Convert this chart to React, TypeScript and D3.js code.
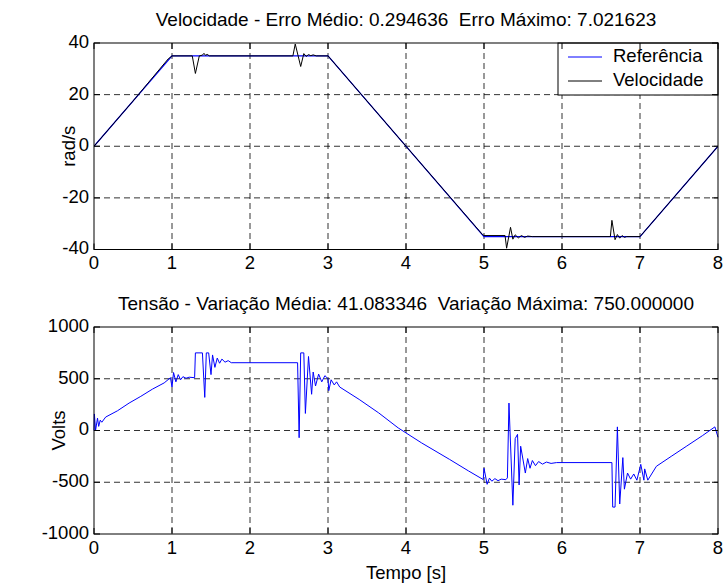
import React from "react";
import * as d3 from "d3";

// ---------- data ----------
const refT = [0, 1, 3, 5, 7, 8];
const refV = [0, 35, 35, -35, -35, 0];

const velT = [0, 0.5, 0.95, 1.0, 1.26, 1.3, 1.35, 1.39, 1.41, 1.43, 1.45, 1.48, 2.55, 2.58, 2.65, 2.69, 2.72, 2.75, 2.78, 2.81, 2.85, 3.0, 4.0, 4.98, 5.0, 5.27, 5.29, 5.34, 5.37, 5.4, 5.44, 5.48, 5.52, 5.56, 5.62, 6.62, 6.64, 6.68, 6.71, 6.74, 6.77, 6.8, 6.83, 7.0, 7.5, 8.0];
const velV = [0, 17.5, 33.8, 35, 35, 28.2, 35, 35.3, 36, 35.2, 35.6, 35, 35, 39.6, 30.9, 35.9, 34.8, 35.5, 35.1, 35.4, 35, 35, 0, -34.2, -34.6, -34.6, -39.5, -31.4, -36, -34.3, -35.5, -34.6, -35.3, -34.8, -35, -35, -28.7, -36.2, -34.2, -35.6, -34.6, -35.3, -35, -35, -17.5, 0];

const voltT = [0, 0.005, 0.02, 0.045, 0.06, 0.08, 0.1, 0.15, 0.3, 0.45, 0.6, 0.75, 0.9, 0.98, 1.0, 1.02, 1.05, 1.08, 1.11, 1.14, 1.18, 1.22, 1.29, 1.3, 1.39, 1.42, 1.44, 1.47, 1.5, 1.52, 1.55, 1.58, 1.61, 1.64, 1.68, 1.72, 1.76, 2.61, 2.63, 2.65, 2.69, 2.71, 2.75, 2.79, 2.81, 2.84, 2.88, 2.92, 2.96, 3.0, 3.01, 3.04, 3.08, 3.11, 3.15, 3.4, 3.65, 3.9, 4.2, 4.56, 4.8, 4.99, 5.0, 5.04, 5.07, 5.1, 5.14, 5.18, 5.22, 5.28, 5.3, 5.32, 5.37, 5.4, 5.43, 5.45, 5.47, 5.53, 5.56, 5.59, 5.62, 5.66, 5.7, 5.75, 5.8, 5.86, 5.93, 6.64, 6.65, 6.68, 6.71, 6.74, 6.78, 6.8, 6.84, 6.88, 6.92, 6.96, 7.01, 7.05, 7.06, 7.1, 7.21, 7.4, 7.6, 7.8, 7.96, 8.0];
const voltV = [0, 160, 0, 120, 40, 100, 80, 130, 190, 265, 330, 400, 460, 510, 420, 560, 470, 540, 490, 520, 505, 515, 510, 750, 750, 320, 750, 750, 540, 730, 610, 700, 650, 690, 660, 675, 655, 655, -70, 750, 750, 165, 715, 350, 565, 430, 545, 470, 530, 500, 385, 490, 440, 470, 420, 300, 170, 25, -120, -280, -390, -474, -365, -520, -460, -490, -465, -485, -470, -475, -458, 265, -722, -78, -37, -526, -152, -411, -271, -365, -290, -340, -300, -325, -305, -318, -310, -310, -740, -740, 35, -710, -262, -567, -411, -470, -420, -480, -327, -480, -371, -480, -346, -250, -150, -50, 35, -65];

const xTicks = [0, 1, 2, 3, 4, 5, 6, 7, 8];
const velTicks = [-40, -20, 0, 20, 40];
const voltTicks = [-1000, -500, 0, 500, 1000];

const velTitle = "Velocidade - Erro Médio: 0.294636  Erro Máximo: 7.021623";
const voltTitle = "Tensão - Variação Média: 41.083346  Variação Máxima: 750.000000";
const legendLabels = ["Referência", "Velocidade"];

// ---------- layout ----------
const W = 724, H = 586;
const L = 94, R = 718;
const FONT = "Arial, 'Liberation Sans', sans-serif";
const FS = 18.5;
const FST = 19;

function Axes({ top, bottom, domain, ticks, title, ylabel, ylabelX, children }: any) {
  const x = d3.scaleLinear().domain([0, 8]).range([L, R]);
  const y = d3.scaleLinear().domain(domain).range([bottom, top]);
  const tl = 6;
  return (
    <g>
      <rect x={L} y={top} width={R - L} height={bottom - top} fill="#fff" />
      {xTicks.slice(1, -1).map((t) => (
        <line key={"gx" + t} x1={x(t)} x2={x(t)} y1={top} y2={bottom} stroke="#000" strokeDasharray="6,4" strokeWidth={1} opacity={0.8} />
      ))}
      {ticks.slice(1, -1).map((t: number) => (
        <line key={"gy" + t} x1={L} x2={R} y1={y(t)} y2={y(t)} stroke="#000" strokeDasharray="6,4" strokeWidth={1} opacity={0.8} />
      ))}
      {children(x, y)}
      <rect x={L} y={top} width={R - L} height={bottom - top} fill="none" stroke="#000" strokeWidth={1} />
      {xTicks.map((t) => (
        <g key={"tx" + t}>
          <line x1={x(t)} x2={x(t)} y1={bottom} y2={bottom - tl} stroke="#000" />
          <line x1={x(t)} x2={x(t)} y1={top} y2={top + tl} stroke="#000" />
          <text x={x(t)} y={bottom + 15} textAnchor="middle" dominantBaseline="middle" fontSize={FS} fontFamily={FONT}>{t}</text>
        </g>
      ))}
      {ticks.map((t: number) => (
        <g key={"ty" + t}>
          <line x1={L} x2={L + tl} y1={y(t)} y2={y(t)} stroke="#000" />
          <line x1={R} x2={R - tl} y1={y(t)} y2={y(t)} stroke="#000" />
          <text x={L - 5} y={y(t)} textAnchor="end" dominantBaseline="middle" fontSize={FS} fontFamily={FONT}>{t}</text>
        </g>
      ))}
      <text x={(L + R) / 2} y={top - 22} textAnchor="middle" dominantBaseline="middle" fontSize={FST} fontFamily={FONT} style={{ whiteSpace: "pre" }}>{title}</text>
      <text transform={`translate(${ylabelX},${(top + bottom) / 2}) rotate(-90)`} textAnchor="middle" dominantBaseline="middle" fontSize={FS} fontFamily={FONT}>{ylabel}</text>
    </g>
  );
}

export default function App() {
  const line = (xs: number[], ys: number[], x: any, y: any) =>
    d3.line<number>().x((_, i) => x(xs[i])).y((_, i) => y(ys[i]))(xs.map((_, i) => i)) || "";
  return (
    <svg width={W} height={H} style={{ position: "absolute", left: 0, top: 0, background: "#fff" }}>
      <rect width={W} height={H} fill="#fff" />
      <Axes top={43} bottom={249.5} domain={[-40, 40]} ticks={velTicks} title={velTitle} ylabel="rad/s" ylabelX={70}>
        {(x: any, y: any) => (
          <g>
            <defs>
              <clipPath id="c1"><rect x={L} y={43} width={R - L} height={206.5} /></clipPath>
            </defs>
            <g clipPath="url(#c1)">
              <path d={line(refT, refV, x, y)} fill="none" stroke="#0000ff" strokeWidth={1.2} />
              <path d={line(velT, velV, x, y)} fill="none" stroke="#000" strokeWidth={1} />
            </g>
            <rect x={558} y={43} width={160} height={52} fill="#fff" stroke="#000" strokeWidth={1} />
            <line x1={568} x2={602} y1={57} y2={57} stroke="#0000ff" />
            <text x={613} y={57} dominantBaseline="middle" fontSize={FS} fontFamily={FONT}>{legendLabels[0]}</text>
            <line x1={568} x2={602} y1={81} y2={81} stroke="#000" />
            <text x={613} y={81} dominantBaseline="middle" fontSize={FS} fontFamily={FONT}>{legendLabels[1]}</text>
          </g>
        )}
      </Axes>
      <Axes top={327} bottom={534} domain={[-1000, 1000]} ticks={voltTicks} title={voltTitle} ylabel="Volts" ylabelX={60}>
        {(x: any, y: any) => (
          <path d={line(voltT, voltV, x, y)} fill="none" stroke="#0000ff" strokeWidth={1} />
        )}
      </Axes>
      <text x={(L + R) / 2} y={574} textAnchor="middle" dominantBaseline="middle" fontSize={FS} fontFamily={FONT}>Tempo [s]</text>
    </svg>
  );
}
